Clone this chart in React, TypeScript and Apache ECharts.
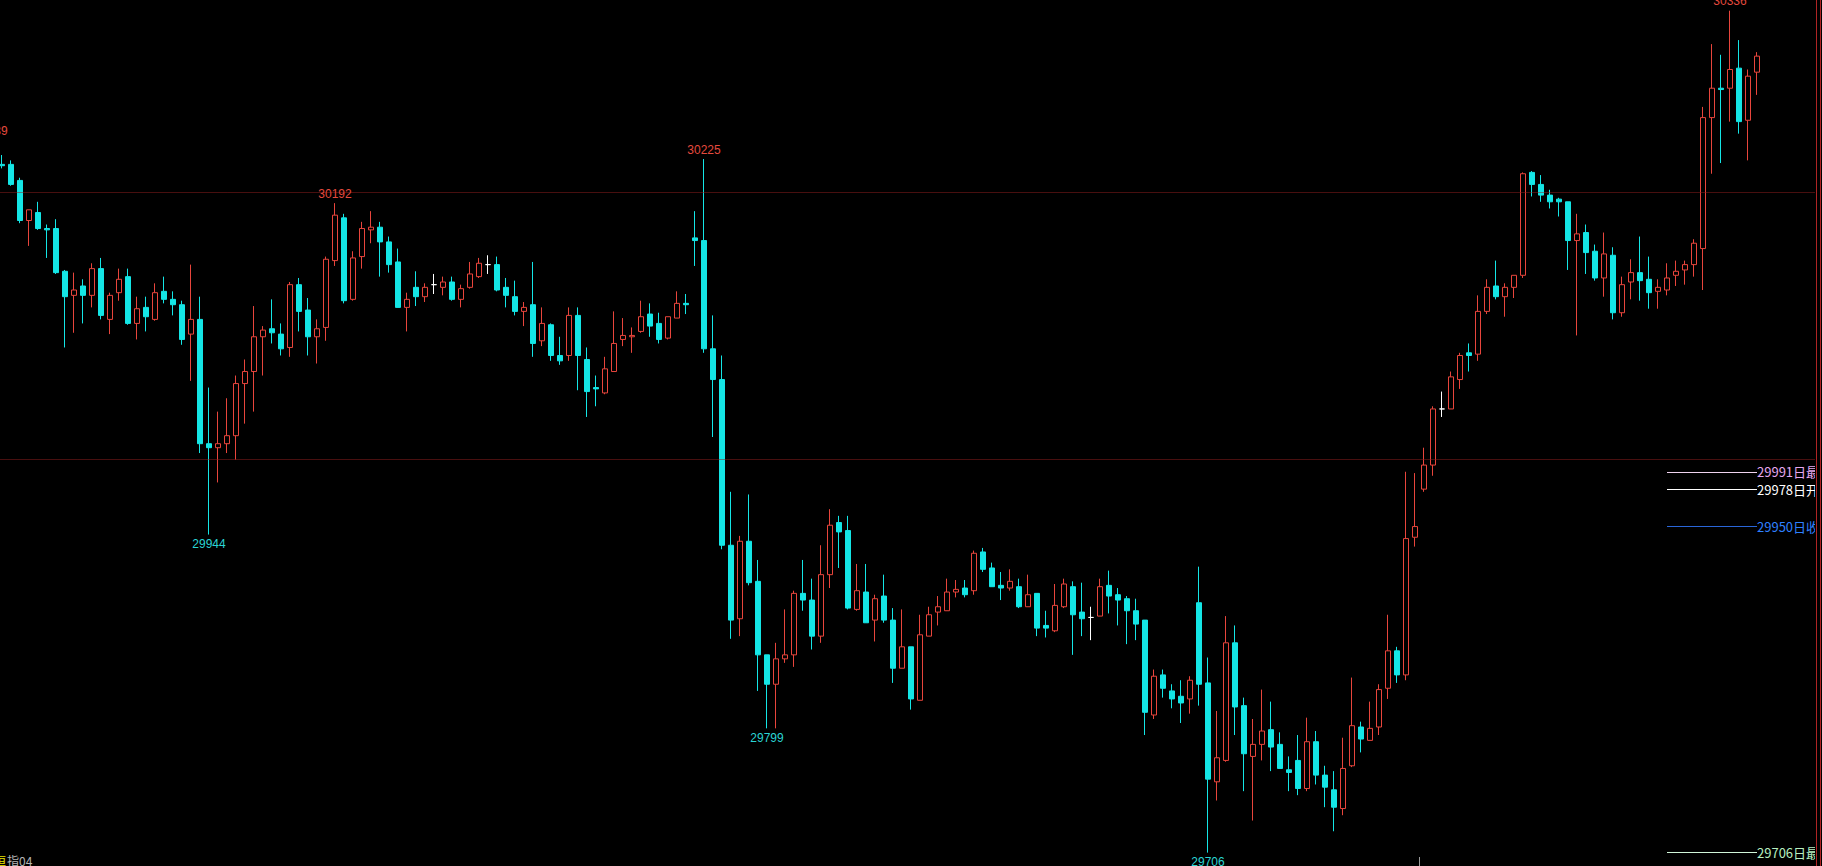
import React, { useEffect, useRef } from 'react';
import * as echarts from 'echarts';

// index 0 is the bar just off the left edge; indices 1..196 are the visible bars
const opens = [
  30230, 30221, 30221, 30209, 30179, 30185, 30173, 30173, 30141, 30123,
  30130, 30123, 30143, 30105, 30125, 30137, 30102, 30114, 30105, 30126,
  30120, 30116, 30094, 30105, 30012, 30009, 30012, 30018, 30057, 30066,
  30092, 30098, 30094, 30084, 30131, 30112, 30092, 30099, 30149, 30181,
  30120, 30152, 30172, 30174, 30163, 30148, 30114, 30129, 30122, 30131,
  30129, 30133, 30120, 30129, 30137, 30146, 30146, 30129, 30122, 30111,
  30116, 30089, 30101, 30078, 30078, 30108, 30075, 30054, 30050, 30066,
  30090, 30092, 30096, 30109, 30102, 30091, 30106, 30117, 30166, 30164,
  30083, 30060, 29936, 29881, 29939, 29909, 29854, 29832, 29851, 29854,
  29900, 29895, 29868, 29914, 29953, 29947, 29888, 29901, 29880, 29898,
  29880, 29844, 29860, 29820, 29868, 29886, 29887, 29901, 29904, 29902,
  29931, 29919, 29906, 29904, 29905, 29890, 29900, 29876, 29872, 29890,
  29905, 29886, 29882, 29883, 29906, 29899, 29896, 29887, 29880, 29809,
  29839, 29827, 29823, 29821, 29893, 29833, 29759, 29775, 29863, 29816,
  29778, 29787, 29798, 29787, 29768, 29775, 29754, 29789, 29764, 29753,
  29739, 29771, 29800, 29790, 29800, 29829, 29857, 29839, 29942, 29978,
  29996, 30038, 30038, 30060, 30080, 30079, 30111, 30130, 30122, 30129,
  30138, 30215, 30206, 30198, 30195, 30193, 30164, 30170, 30156, 30136,
  30153, 30110, 30133, 30140, 30135, 30126, 30127, 30138, 30142, 30146,
  30158, 30256, 30278, 30278, 30293, 30254, 30290,
];

const closes = [
  30225, 30220, 30206, 30179, 30187, 30173, 30172, 30140, 30122, 30127,
  30123, 30143, 30108, 30123, 30135, 30102, 30113, 30107, 30125, 30120,
  30116, 30090, 30105, 30012, 30009, 30012, 30018, 30057, 30066, 30092,
  30097, 30095, 30083, 30131, 30111, 30092, 30098, 30150, 30183, 30119,
  30151, 30173, 30174, 30163, 30146, 30114, 30120, 30122, 30129, 30131,
  30133, 30120, 30128, 30139, 30147, 30146, 30127, 30123, 30111, 30114,
  30087, 30102, 30078, 30074, 30108, 30078, 30051, 30053, 30068, 30087,
  30093, 30093, 30107, 30100, 30090, 30107, 30117, 30116, 30164, 30083,
  30060, 29936, 29880, 29939, 29908, 29854, 29832, 29851, 29854, 29900,
  29895, 29868, 29914, 29951, 29946, 29889, 29902, 29878, 29896, 29880,
  29844, 29860, 29821, 29869, 29884, 29890, 29901, 29903, 29899, 29930,
  29918, 29905, 29904, 29909, 29890, 29899, 29874, 29874, 29891, 29907,
  29884, 29881, 29882, 29905, 29898, 29895, 29887, 29877, 29811, 29838,
  29829, 29821, 29818, 29835, 29832, 29761, 29777, 29863, 29815, 29780,
  29787, 29797, 29785, 29769, 29766, 29754, 29789, 29764, 29755, 29740,
  29769, 29801, 29791, 29799, 29828, 29857, 29839, 29941, 29950, 29996,
  30038, 30038, 30062, 30078, 30078, 30111, 30129, 30122, 30129, 30138,
  30214, 30206, 30198, 30193, 30193, 30164, 30169, 30155, 30136, 30154,
  30110, 30131, 30140, 30134, 30125, 30129, 30136, 30141, 30146, 30162,
  30256, 30278, 30277, 30292, 30253, 30287, 30302,
];

const lows = [
  30220, 30218, 30205, 30177, 30160, 30172, 30151, 30139, 30084, 30095,
  30102, 30114, 30105, 30094, 30119, 30101, 30090, 30096, 30104, 30117,
  30108, 30086, 30059, 30005, 29944, 29983, 30005, 30000, 30027, 30036,
  30063, 30087, 30078, 30077, 30096, 30078, 30072, 30089, 30145, 30117,
  30119, 30143, 30162, 30137, 30140, 30114, 30096, 30115, 30118, 30124,
  30123, 30119, 30114, 30128, 30136, 30139, 30126, 30114, 30108, 30100,
  30077, 30085, 30074, 30071, 30074, 30052, 30032, 30040, 30049, 30066,
  30085, 30080, 30095, 30092, 30087, 30090, 30106, 30109, 30145, 30080,
  30017, 29933, 29866, 29868, 29906, 29827, 29799, 29799, 29848, 29845,
  29887, 29858, 29863, 29904, 29919, 29888, 29887, 29878, 29864, 29878,
  29833, 29844, 29813, 29820, 29868, 29876, 29887, 29897, 29897, 29899,
  29916, 29905, 29895, 29902, 29889, 29890, 29868, 29867, 29871, 29889,
  29854, 29868, 29865, 29883, 29885, 29876, 29862, 29865, 29794, 29806,
  29822, 29814, 29803, 29810, 29816, 29706, 29745, 29774, 29794, 29752,
  29730, 29775, 29767, 29769, 29752, 29749, 29752, 29757, 29740, 29722,
  29734, 29770, 29781, 29790, 29794, 29821, 29833, 29835, 29935, 29976,
  29988, 30032, 30038, 30053, 30066, 30074, 30109, 30120, 30107, 30121,
  30136, 30197, 30193, 30188, 30182, 30142, 30093, 30139, 30134, 30122,
  30105, 30107, 30120, 30119, 30113, 30113, 30123, 30130, 30131, 30137,
  30127, 30214, 30222, 30253, 30244, 30224, 30273,
];

const highs = [
  30239, 30228, 30224, 30211, 30187, 30193, 30176, 30180, 30142, 30140,
  30135, 30147, 30151, 30125, 30143, 30143, 30122, 30122, 30132, 30137,
  30126, 30119, 30146, 30122, 30054, 30036, 30046, 30063, 30075, 30115,
  30100, 30120, 30102, 30133, 30136, 30121, 30105, 30152, 30192, 30184,
  30156, 30178, 30186, 30178, 30167, 30158, 30125, 30141, 30132, 30139,
  30137, 30137, 30131, 30148, 30151, 30153, 30152, 30136, 30134, 30118,
  30148, 30114, 30102, 30092, 30114, 30114, 30084, 30063, 30077, 30111,
  30106, 30099, 30119, 30117, 30110, 30107, 30126, 30124, 30186, 30225,
  30108, 30078, 29976, 29943, 29974, 29925, 29854, 29863, 29888, 29902,
  29925, 29911, 29936, 29963, 29958, 29958, 29922, 29922, 29899, 29914,
  29889, 29888, 29860, 29884, 29890, 29898, 29911, 29910, 29910, 29932,
  29934, 29923, 29916, 29918, 29911, 29914, 29900, 29887, 29907, 29911,
  29909, 29908, 29890, 29911, 29917, 29904, 29898, 29896, 29880, 29843,
  29843, 29832, 29835, 29838, 29920, 29852, 29812, 29883, 29876, 29822,
  29806, 29828, 29819, 29796, 29778, 29794, 29807, 29797, 29771, 29767,
  29792, 29837, 29804, 29819, 29832, 29884, 29860, 29991, 29990, 30009,
  30040, 30051, 30066, 30080, 30087, 30123, 30135, 30149, 30132, 30138,
  30215, 30216, 30213, 30202, 30196, 30193, 30184, 30176, 30161, 30170,
  30159, 30137, 30150, 30167, 30152, 30135, 30147, 30149, 30149, 30165,
  30264, 30311, 30303, 30336, 30314, 30292, 30305,
];

const emptySlots = 6;
const whiteDojiIdx = [49, 55, 122, 161];

const peakIdx = [0, 38, 79, 193];
const peakVal = [30239, 30192, 30225, 30336];
const troughIdx = [24, 86, 135];
const troughVal = [29944, 29799, 29706];

const gridLevels = [30200, 30000];

const refValues = [29991, 29978, 29950, 29706];
const refNames = ['日最高', '日开盘', '日收盘', '日最低'];
const refStartIdx = 186;
const refEndIdx = 196;

const RED = '#e8453c';
const CYAN = '#14e6e6';
const refTextColors = ['#e6a8f0', '#ffffff', '#2f80ff', '#b8f0c0'];
const refLineColors = ['#f0d4f0', '#ffffff', '#2a66d8', '#d0f5d8'];

// the chart canvas starts 12px left of the page so the first (partial) bar sits off-screen
const SHIFT = 12;
const PAGE_W = 1822;
const PAGE_H = 866;

function buildOption() {
  const total = opens.length + emptySlots;
  const cats = Array.from({ length: total }, (_, i) => String(i));
  const data = opens.map((o, i) => {
    const c = closes[i];
    const value = [o, c, Math.min(lows[i], o, c), Math.max(highs[i], o, c)];
    if (whiteDojiIdx.includes(i)) {
      return {
        value,
        itemStyle: { color: '#ffffff', color0: '#ffffff', borderColor: '#ffffff', borderColor0: '#ffffff' },
      };
    }
    return value;
  });

  const markPointData = [
    ...peakIdx.map((idx, j) => ({
      coord: [idx, peakVal[j]],
      value: peakVal[j],
      label: { position: 'top', distance: 3, color: '#e44a3e', offset: idx === 0 ? [-2, 0] : [0, 0] },
    })),
    ...troughIdx.map((idx, j) => ({
      coord: [idx, troughVal[j]],
      value: troughVal[j],
      label: { position: 'bottom', distance: 3, color: '#2ad4d4' },
    })),
  ];

  const markLineData: any[] = [
    ...gridLevels.map((v) => ({
      yAxis: v,
      lineStyle: { color: '#901e1e', type: 'dotted', width: 1 },
      label: { show: false },
    })),
    ...refValues.map((v, j) => [
      {
        coord: [refStartIdx, v],
        lineStyle: { color: refLineColors[j], type: 'solid', width: 1 },
        label: {
          show: true,
          position: 'end',
          distance: 0,
          formatter: `${v}${refNames[j]}`,
          color: refTextColors[j],
          fontSize: 13,
          fontFamily: '"Noto Sans CJK SC", "Liberation Sans", sans-serif',
        },
      },
      { coord: [refEndIdx, v] },
    ]),
  ];

  return {
    animation: false,
    backgroundColor: '#000000',
    grid: { left: 0.5, right: 6.5, top: 0, bottom: 0 },
    xAxis: { type: 'category', data: cats, show: false, boundaryGap: true },
    yAxis: { type: 'value', min: 29696, max: 30344, show: false, splitLine: { show: false } },
    series: [
      {
        type: 'candlestick',
        data,
        barWidth: 6,
        itemStyle: {
          color: '#000000',
          color0: CYAN,
          borderColor: RED,
          borderColor0: CYAN,
          borderColorDoji: '#ffffff',
          borderWidth: 1,
        },
        markPoint: {
          symbol: 'circle',
          symbolSize: 1,
          silent: true,
          itemStyle: { color: 'rgba(0,0,0,0)' },
          label: { show: true, fontSize: 12, fontFamily: '"Liberation Sans", sans-serif', formatter: '{c}' },
          data: markPointData,
        },
        markLine: {
          symbol: ['none', 'none'],
          silent: true,
          precision: 0,
          data: markLineData,
        },
      },
    ],
    graphic: [
      {
        type: 'text',
        x: SHIFT - 6,
        y: 860,
        z: 100,
        style: { text: '恒', fill: '#e6e600', font: '12px "Noto Sans CJK SC"', verticalAlign: 'middle' },
      },
      {
        type: 'text',
        x: SHIFT + 7,
        y: 860,
        z: 100,
        style: { text: '指04', fill: '#b4b4b4', font: '12px "Noto Sans CJK SC"', verticalAlign: 'middle' },
      },
      {
        type: 'rect',
        z: 100,
        shape: { x: SHIFT + 1815, y: 0, width: 20, height: PAGE_H },
        style: { fill: '#000000' },
      },
      {
        type: 'line',
        z: 101,
        shape: { x1: SHIFT + 1816.5, y1: 0, x2: SHIFT + 1816.5, y2: PAGE_H },
        style: { stroke: '#b02424', lineWidth: 1 },
      },
      {
        type: 'line',
        z: 101,
        shape: { x1: SHIFT + 1820.5, y1: 0, x2: SHIFT + 1820.5, y2: PAGE_H },
        style: { stroke: '#b02424', lineWidth: 1 },
      },
      {
        type: 'line',
        z: 101,
        shape: { x1: SHIFT + 1419.5, y1: 857, x2: SHIFT + 1419.5, y2: PAGE_H },
        style: { stroke: '#9a9a9a', lineWidth: 1 },
      },
    ],
  };
}

export default function App() {
  const ref = useRef<HTMLDivElement>(null);
  useEffect(() => {
    if (!ref.current) return;
    const chart = echarts.init(ref.current, undefined, { renderer: 'svg' });
    chart.setOption(buildOption() as any);
    return () => chart.dispose();
  }, []);
  return (
    <div
      style={{
        position: 'fixed',
        left: 0,
        top: 0,
        width: PAGE_W,
        height: PAGE_H,
        overflow: 'hidden',
        background: '#000000',
      }}
    >
      <div
        ref={ref}
        style={{ position: 'absolute', left: -SHIFT, top: 0, width: PAGE_W + SHIFT, height: PAGE_H }}
      />
    </div>
  );
}
